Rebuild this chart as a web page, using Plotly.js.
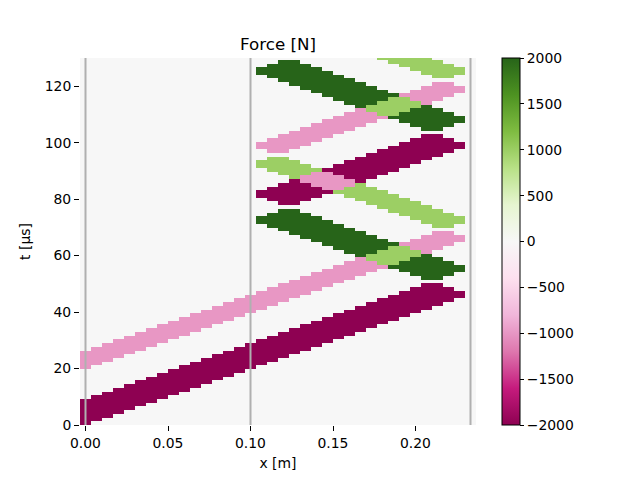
<!DOCTYPE html>
<html>
<head>
<meta charset="utf-8">
<script src="https://cdn.plot.ly/plotly-3.0.1.min.js"></script>
<style>html,body{margin:0;padding:0;background:#fff;}#chart{width:640px;height:480px;}</style>
</head>
<body>
<div id="chart"></div>
<script>
// Cell centres along the bar, x [m]
const xCenters = [0, 0.006667, 0.013333, 0.02, 0.026667, 0.033333, 0.04, 0.046667, 0.053333, 0.06,
  0.066667, 0.073333, 0.08, 0.086667, 0.093333, 0.1, 0.106667, 0.113333, 0.12, 0.126667,
  0.133333, 0.14, 0.146667, 0.153333, 0.16, 0.166667, 0.173333, 0.18, 0.186667, 0.193333,
  0.2, 0.206667, 0.213333, 0.22, 0.226667, 0.233333];

// Time-row edges, t [µs]
const tEdges = [0, 1.32, 2.64, 3.96, 5.28, 6.6, 7.92, 9.24, 10.56, 11.88,
  13.2, 14.52, 15.84, 17.16, 18.48, 19.8, 21.12, 22.44, 23.76, 25.08,
  26.4, 27.72, 29.04, 30.36, 31.68, 33, 34.32, 35.64, 36.96, 38.28,
  39.6, 40.92, 42.24, 43.56, 44.88, 46.2, 47.52, 48.84, 50.16, 51.48,
  52.8, 54.12, 55.44, 56.76, 58.08, 59.4, 60.72, 62.04, 63.36, 64.68,
  66, 67.32, 68.64, 69.96, 71.28, 72.6, 73.92, 75.24, 76.56, 77.88,
  79.2, 80.52, 81.84, 83.16, 84.48, 85.8, 87.12, 88.44, 89.76, 91.08,
  92.4, 93.72, 95.04, 96.36, 97.68, 99, 100.32, 101.64, 102.96, 104.28,
  105.6, 106.92, 108.24, 109.56, 110.88, 112.2, 113.52, 114.84, 116.16, 117.48,
  118.8, 120.12, 121.44, 122.76, 124.08, 125.4, 126.72, 128.04, 129.36, 130.68];

// Force level of each symbol [N]
const forceLevels = {"M": -2000, "p": -1000, ".": 0, "g": 1000, "G": 2000};

// Force rows (bottom to top), run-length coded: symbol + count of cells
const forceRows = [
  "M1 .35", "M2 .34", "M3 .33", "M4 .32", "M5 .31", "M6 .30", "M7 .29",
  ".1 M7 .28", ".2 M7 .27", ".3 M7 .26", ".4 M7 .25", ".5 M7 .24", ".6 M7 .23", ".7 M7 .22", ".8 M7 .21",
  "p1 .8 M7 .20", "p2 .8 M7 .19", "p3 .8 M7 .18", "p4 .8 M7 .17", "p5 .8 M7 .16",
  ".1 p5 .8 M7 .15", ".2 p5 .8 M7 .14", ".3 p5 .8 M7 .13", ".4 p5 .8 M7 .12", ".5 p5 .8 M7 .11",
  ".6 p5 .8 M7 .10", ".7 p5 .8 M7 .9", ".8 p5 .8 M7 .8", ".9 p5 .8 M7 .7", ".10 p5 .8 M7 .6",
  ".11 p5 .8 M7 .5", ".12 p5 .8 M7 .4", ".13 p5 .8 M7 .3", ".14 p5 .8 M7 .2", ".15 p5 .8 M7 .1",
  ".16 p5 .8 M6 .1", ".17 p5 .8 M4 .2", ".18 p5 .8 M2 .3", ".19 p5 .12",
  ".20 p5 .6 G2 .3", ".21 p5 .4 G4 .2", ".22 p5 .2 G6 .1", ".23 p5 G7 .1",
  ".24 p3 g2 G5 .2", ".25 p1 g4 G3 .3", ".25 G1 g5 G1 .4", ".24 G3 g4 p1 .4", ".23 G5 g2 p3 .3",
  ".22 G7 p5 .2", ".21 G7 .2 p5 .1", ".20 G7 .4 p4 .1", ".19 G7 .6 p2 .2", ".18 G7 .11",
  ".17 G7 .8 g2 .2", ".16 G7 .8 g4 .1", ".16 G6 .8 g5 .1", ".17 G4 .8 g5 .2", ".18 G2 .8 g5 .3",
  ".27 g5 .4",
  ".18 M2 .6 g5 .5", ".17 M4 .4 g5 .6", ".16 M6 .2 g5 .7", ".16 M7 g5 .8",
  ".17 M5 p2 g3 .9", ".18 M3 p4 g1 .10", ".19 M1 p5 M1 .10", ".19 g1 p4 M3 .9", ".18 g3 p2 M5 .8",
  ".17 g5 M7 .7", ".16 g5 .2 M7 .6", ".16 g4 .4 M7 .5", ".17 g2 .6 M7 .4", ".26 M7 .3",
  ".17 p2 .8 M7 .2", ".16 p4 .8 M7 .1", ".16 p5 .8 M6 .1", ".17 p5 .8 M4 .2", ".18 p5 .8 M2 .3",
  ".19 p5 .12",
  ".20 p5 .6 G2 .3", ".21 p5 .4 G4 .2", ".22 p5 .2 G6 .1", ".23 p5 G7 .1",
  ".24 p3 g2 G5 .2", ".25 p1 g4 G3 .3", ".25 G1 g5 G1 .4", ".24 G3 g4 p1 .4", ".23 G5 g2 p3 .3",
  ".22 G7 p5 .2", ".21 G7 .2 p5 .1", ".20 G7 .4 p4 .1", ".19 G7 .6 p2 .2", ".18 G7 .11",
  ".17 G7 .8 g2 .2", ".16 G7 .8 g4 .1", ".16 G6 .8 g5 .1", ".17 G4 .8 g5 .2", ".18 G2 .8 g5 .3",
  ".27 g5 .4"
];

// Bar boundaries marked with vertical lines [m]
const boundaries = [0, 0.1, 0.233333];

const xTicks = [0, 0.05, 0.1, 0.15, 0.2];
const xTickLabels = ["0.00", "0.05", "0.10", "0.15", "0.20"];
const yTicks = [0, 20, 40, 60, 80, 100, 120];
const cbTicks = [2000, 1500, 1000, 500, 0, -500, -1000, -1500, -2000];
const cbTickLabels = ["2000", "1500", "1000", "500", "0", "\u2212500", "\u22121000", "\u22121500", "\u22122000"];

function decodeRow(s) {
  const out = [];
  s.split(" ").forEach(tok => {
    const ch = tok[0];
    const n = parseInt(tok.slice(1), 10);
    for (let k = 0; k < n; k++) out.push(forceLevels[ch]);
  });
  return out;
}
const z = forceRows.map(decodeRow);

const piyg = [
  [0.0, "rgb(142,1,82)"], [0.1, "rgb(197,27,125)"], [0.2, "rgb(222,119,174)"],
  [0.3, "rgb(241,182,218)"], [0.4, "rgb(253,224,239)"], [0.5, "rgb(247,247,247)"],
  [0.6, "rgb(230,245,208)"], [0.7, "rgb(184,225,134)"], [0.8, "rgb(127,188,65)"],
  [0.9, "rgb(77,146,33)"], [1.0, "rgb(39,100,25)"]
];

const font = "DejaVu Sans, sans-serif";

const trace = {
  type: "heatmap",
  x: xCenters,
  y: tEdges,
  z: z,
  zmin: -2000,
  zmax: 2000,
  colorscale: piyg,
  zsmooth: false,
  hoverinfo: "skip",
  colorbar: {
    x: 1.0657, xanchor: "left", xpad: 0,
    y: 0.5, yanchor: "middle", ypad: 0,
    len: 1, lenmode: "fraction",
    thickness: 18, thicknessmode: "pixels",
    outlinewidth: 1, outlinecolor: "#000",
    ticks: "outside", ticklen: 4, tickwidth: 1, tickcolor: "#000",
    tickmode: "array", tickvals: cbTicks, ticktext: cbTickLabels,
    tickfont: {family: font, size: 13.9, color: "#000"}
  }
};

const shapes = boundaries.map(b => ({
  type: "line", xref: "x", yref: "paper", x0: b, x1: b, y0: 0, y1: 1,
  line: {color: "#b0b0b0", width: 2}, layer: "above"
}));

const layout = {
  width: 640, height: 480,
  margin: {l: 80, r: 164, t: 58, b: 55},
  paper_bgcolor: "#fff", plot_bgcolor: "#fff",
  title: {text: "Force [N]", font: {family: font, size: 16.7, color: "#000"},
          x: 0.5, xref: "paper", xanchor: "center", y: 1 - 44 / 480, yref: "container", yanchor: "middle"},
  xaxis: {
    range: [-0.003333, 0.236667], showgrid: false, zeroline: false, showline: false,
    ticks: "outside", ticklen: 5, tickwidth: 1, tickcolor: "#000",
    tickmode: "array", tickvals: xTicks, ticktext: xTickLabels,
    tickfont: {family: font, size: 13.9, color: "#000"},
    title: {text: "x [m]", font: {family: font, size: 13.9, color: "#000"}, standoff: 8}
  },
  yaxis: {
    range: [0, 130], showgrid: false, zeroline: false, showline: false,
    ticks: "outside", ticklen: 5, tickwidth: 1, tickcolor: "#000",
    tickmode: "array", tickvals: yTicks,
    tickfont: {family: font, size: 13.9, color: "#000"},
    title: {text: "t [µs]", font: {family: font, size: 13.9, color: "#000"}, standoff: 10}
  },
  shapes: shapes,
  showlegend: false
};

Plotly.newPlot("chart", [trace], layout, {staticPlot: true, displayModeBar: false});
</script>
</body>
</html>
